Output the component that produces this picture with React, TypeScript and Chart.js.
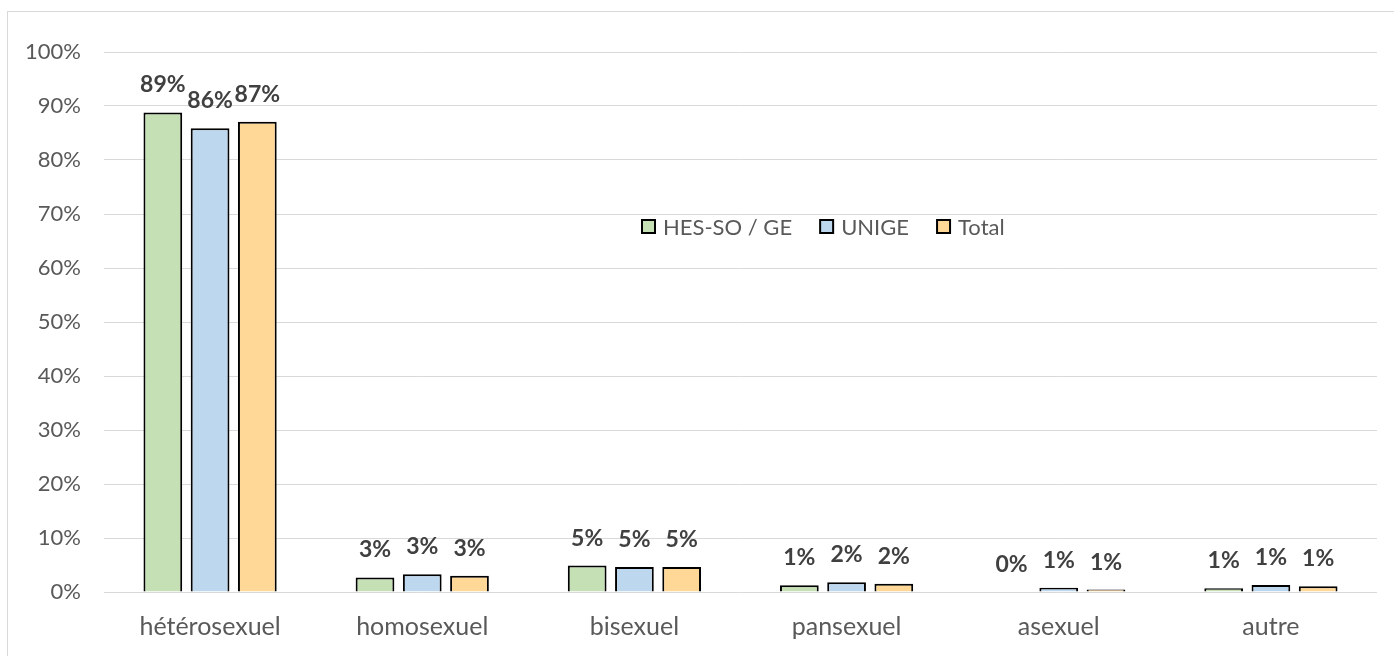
import React, { useEffect, useRef } from "react";
import { Chart, registerables } from "chart.js";

Chart.register(...registerables);

const categories = ["hétérosexuel", "homosexuel", "bisexuel", "pansexuel", "asexuel", "autre"];
const seriesNames = ["HES-SO / GE", "UNIGE", "Total"];
const hesValues = [88.8, 2.7, 4.9, 1.25, 0, 0.7];
const unigeValues = [85.9, 3.3, 4.65, 1.8, 0.8, 1.3];
const totalValues = [87.1, 3.0, 4.65, 1.55, 0.45, 1.05];
const labelValues = [
  [89, 3, 5, 1, 0, 1],
  [86, 3, 5, 2, 1, 1],
  [87, 3, 5, 2, 1, 1],
];
const yTicks = [0, 10, 20, 30, 40, 50, 60, 70, 80, 90, 100];
const colors = ["#c5e0b4", "#bdd7ee", "#ffd797"];

const FONT = "Lato, 'Open Sans', sans-serif";

const framePlugin = {
  id: "frame",
  beforeDraw(chart: any) {
    const ctx = chart.ctx;
    ctx.save();
    ctx.fillStyle = "#ffffff";
    ctx.fillRect(0, 0, chart.width, chart.height);
    ctx.strokeStyle = "#d9d9d9";
    ctx.lineWidth = 1;
    ctx.strokeRect(7.5, 11.5, chart.width + 10, chart.height + 10);
    ctx.restore();
  },
};

const labelPlugin = {
  id: "barLabels",
  afterDatasetsDraw(chart: any) {
    const ctx = chart.ctx;
    ctx.save();
    ctx.font = "bold 23px " + FONT;
    ctx.fillStyle = "#404040";
    ctx.textAlign = "center";
    ctx.textBaseline = "alphabetic";
    chart.data.datasets.forEach((ds: any, i: number) => {
      const meta = chart.getDatasetMeta(i);
      meta.data.forEach((el: any, j: number) => {
        ctx.fillText(labelValues[i][j] + "%", el.x, el.y - 20);
      });
    });
    ctx.restore();
  },
};

const legendPlugin = {
  id: "insideLegend",
  afterDatasetsDraw(chart: any) {
    const ctx = chart.ctx;
    const area = chart.chartArea;
    ctx.save();
    ctx.font = "22px " + FONT;
    ctx.textBaseline = "middle";
    ctx.textAlign = "left";
    let x = area.left + 537;
    const y = 227;
    chart.data.datasets.forEach((ds: any) => {
      ctx.fillStyle = ds.backgroundColor;
      ctx.fillRect(x + 1, y - 7, 13, 13);
      ctx.strokeStyle = "#000";
      ctx.lineWidth = 2;
      ctx.strokeRect(x + 1, y - 7, 13, 13);
      ctx.fillStyle = "#595959";
      ctx.fillText(ds.label, x + 22, y + 1);
      x += 22 + ctx.measureText(ds.label).width + 27;
    });
    ctx.restore();
  },
};

export default function App() {
  const ref = useRef<HTMLCanvasElement>(null);
  useEffect(() => {
    if (!ref.current) return;
    const values = [hesValues, unigeValues, totalValues];
    const chart = new Chart(ref.current, {
      type: "bar",
      data: {
        labels: categories,
        datasets: seriesNames.map((name, i) => ({
          label: name,
          data: values[i],
          backgroundColor: colors[i],
          borderColor: "#000000",
          borderWidth: 2,
          barPercentage: 0.82,
          categoryPercentage: 0.668,
        })),
      },
      options: {
        animation: false,
        responsive: false,
        maintainAspectRatio: false,
        layout: { padding: { top: 52, right: 17, left: 0, bottom: 0 } },
        plugins: {
          legend: { display: false },
          tooltip: { enabled: false },
        },
        scales: {
          x: {
            grid: { display: false, drawTicks: false },
            border: { display: false },
            ticks: {
              color: "#595959",
              font: { family: FONT, size: 25 },
              padding: 20,
              maxRotation: 0,
            },
            afterFit: (s: any) => {
              s.height = 64;
            },
          },
          y: {
            min: 0,
            max: 100,
            afterBuildTicks: (s: any) => {
              s.ticks = yTicks.map((v) => ({ value: v }));
            },
            grid: { color: "#d9d9d9", lineWidth: 1, drawTicks: false },
            border: { display: false },
            ticks: {
              color: "#595959",
              font: { family: FONT, size: 22 },
              padding: 23,
              callback: (v: any) => v + "%",
            },
            afterFit: (s: any) => {
              s.width = 104;
            },
          },
        },
      },
      plugins: [framePlugin, labelPlugin, legendPlugin],
    });
    return () => chart.destroy();
  }, []);
  return (
    <div style={{ position: "absolute", left: 0, top: 0, width: 1394, height: 656 }}>
      <canvas ref={ref} width={1394} height={656} style={{ display: "block" }} />
    </div>
  );
}
